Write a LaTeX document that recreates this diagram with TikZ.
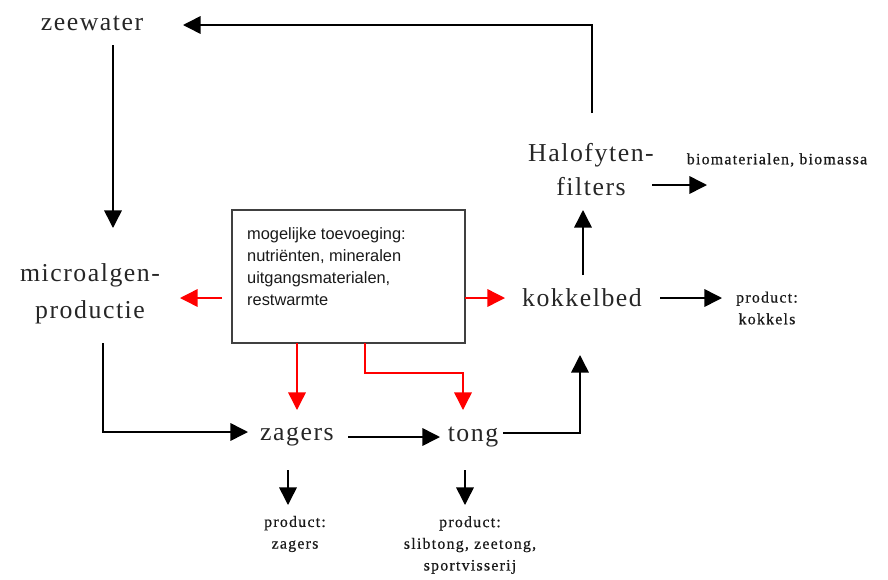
\documentclass[tikz,border=0pt]{standalone}
\usepackage{fontspec}
\setmainfont{Liberation Serif}
\setsansfont{Liberation Sans}
\newfontfamily\wideserif[LetterSpace=6]{Liberation Serif}
\newfontfamily\prodserif[LetterSpace=8,FakeBold=0.6]{Liberation Serif}
\usetikzlibrary{arrows.meta}
\tikzset{
  lbl/.style={font=\wideserif\fontsize{22}{27}\selectfont,text=black!85,inner sep=1pt,align=center},
  prod/.style={font=\prodserif\fontsize{13.5}{18.5}\selectfont,text=black!90,inner sep=1pt,align=center},
  boxtxt/.style={font=\sffamily\fontsize{14}{19}\selectfont,text=black!90,inner sep=0pt,align=left},
  infobox/.style={draw=black!75,line width=1.8pt,minimum width=6.99cm,minimum height=3.99cm},
  flow/.style={line width=1.3pt,-{Triangle[length=15pt,width=15pt]}},
  extra/.style={red,line width=1.2pt,-{Triangle[length=15pt,width=15pt]}}
}
\begin{document}
\begin{tikzpicture}[x=0.03cm,y=-0.03cm]
\useasboundingbox (0,0) rectangle (888,579);
\node[lbl](zeewater) at (92,23){zeewater};
\node[lbl](algen) at (90,294){microalgen-\\[5pt]productie};
\node[infobox](extra) at (348.5,276.5){};
\node[boxtxt,anchor=north west](extratxt) at ([shift={(16,18)}]extra.north west){mogelijke toevoeging:\\nutriënten, mineralen\\uitgangsmaterialen,\\restwarmte};
\node[lbl](kokkel) at (582,298){kokkelbed};
\node[lbl](halo) at (591,170){Halofyten-\\[2pt]filters};
\node[lbl](zagers) at (297,437){zagers};
\node[lbl](tong) at (473,437){tong};
\node[prod](prodkok) at (767,308){product:\\kokkels};
\node[prod](biomat) at (777,160){biomaterialen, biomassa};
\node[prod](prodzag) at (295,534){product:\\zagers};
\node[prod](prodtong) at (470,545){product:\\slibtong, zeetong,\\sportvisserij};

\draw[flow]([shift={(1,-57)}]halo.center)|-([shift={(91,2)}]zeewater.center);
\draw[flow]([shift={(21,22)}]zeewater.center)--([shift={(23,-66)}]algen.center);
\draw[flow]([shift={(13,49)}]algen.center)|-([shift={(-49,-5)}]zagers.center);
\draw[flow]([shift={(51,0)}]zagers.center)--([shift={(-33,0)}]tong.center);
\draw[flow]([shift={(30,-4)}]tong.center)-|([shift={(-2,57)}]kokkel.center);
\draw[flow]([shift={(1,-23)}]kokkel.center)--([shift={(-8,40)}]halo.center);
\draw[flow]([shift={(78,0)}]kokkel.center)--([shift={(-45,-10)}]prodkok.center);
\draw[flow]([shift={(61,15)}]halo.center)--([shift={(-70,25)}]biomat.center);
\draw[flow]([shift={(-9,33)}]zagers.center)--([shift={(-7,-29)}]prodzag.center);
\draw[flow]([shift={(-8,33)}]tong.center)--([shift={(-5,-40)}]prodtong.center);

\draw[extra]([shift={(-126.5,21.5)}]extra.center)--([shift={(90,4)}]algen.center);
\draw[extra]([shift={(116.5,21.5)}]extra.center)--([shift={(-77,0)}]kokkel.center);
\draw[extra]([shift={(-51.5,66.5)}]extra.center)--([shift={(0,-27)}]zagers.center);
\draw[extra]([shift={(16.5,66.5)}]extra.center)|-([shift={(-10,-64)}]tong.center)--([shift={(-10,-27)}]tong.center);
\end{tikzpicture}
\end{document}
